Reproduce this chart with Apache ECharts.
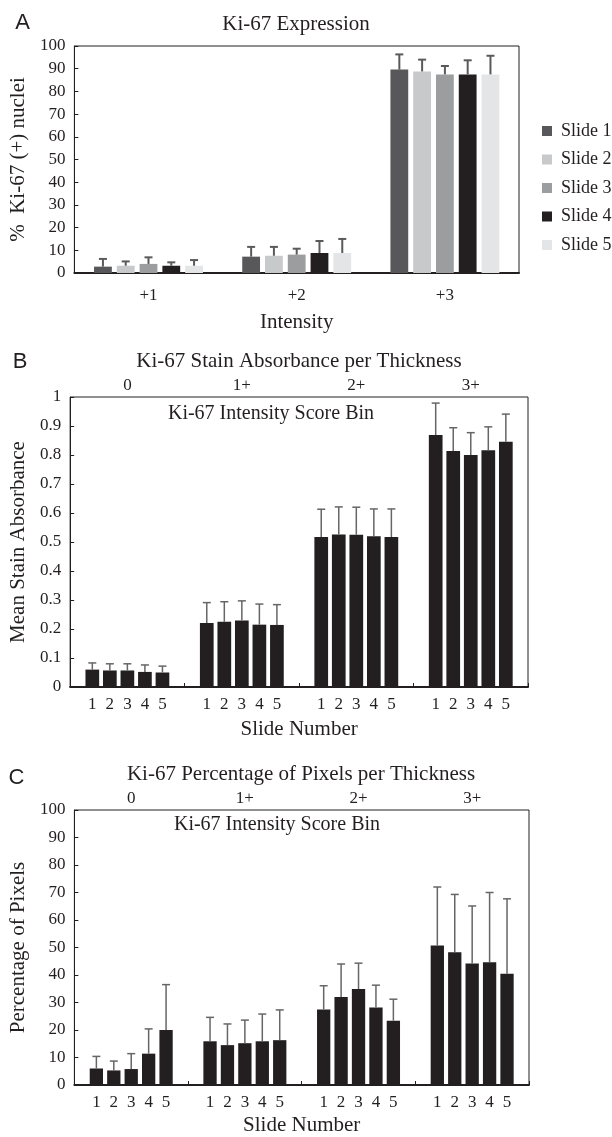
<!DOCTYPE html>
<html>
<head>
<meta charset="utf-8">
<title>Ki-67</title>
<script src="https://cdn.jsdelivr.net/npm/echarts@6/dist/echarts.min.js"></script>
<style>
  html, body { margin: 0; padding: 0; background: #fff; }
  #chart { width: 612px; height: 1137px; }
</style>
</head>
<body>
<div id="chart"></div>
<script>
// ---- data ----
var slideNames = ['Slide 1', 'Slide 2', 'Slide 3', 'Slide 4', 'Slide 5'];
var slideColors = ['#58585a', '#c8c9cb', '#9b9d9f', '#231f20', '#e4e5e6'];

// panel A : % Ki-67 (+) nuclei, rows = slides, cols = intensity
var aCats = ['+1', '+2', '+3'];
var aMeans = [
    [2.8, 7.2, 89.6],
    [3.2, 7.6, 88.8],
    [4.0, 8.1, 87.5],
    [3.2, 8.8, 87.5],
    [3.2, 8.8, 87.5]
];
var aErrs = [
    [3.4, 4.3, 6.7],
    [1.9, 3.9, 5.2],
    [2.9, 2.6, 3.7],
    [1.5, 5.3, 6.2],
    [2.5, 6.2, 8.2]
];

// panel B : mean stain absorbance
var binCats = ['0', '1+', '2+', '3+'];
var bMeans = [
    [0.060, 0.221, 0.517, 0.869],
    [0.057, 0.225, 0.526, 0.814],
    [0.057, 0.229, 0.525, 0.800],
    [0.052, 0.215, 0.520, 0.816],
    [0.050, 0.214, 0.517, 0.846]
];
var bErrs = [
    [0.023, 0.070, 0.096, 0.110],
    [0.023, 0.069, 0.095, 0.080],
    [0.023, 0.068, 0.095, 0.077],
    [0.024, 0.071, 0.094, 0.081],
    [0.022, 0.070, 0.097, 0.095]
];

// panel C : percentage of pixels
var cMeans = [
    [6.0, 15.9, 27.5, 50.7],
    [5.3, 14.5, 32.0, 48.3],
    [5.8, 15.2, 34.9, 44.2],
    [11.4, 15.9, 28.2, 44.6],
    [20.0, 16.3, 23.4, 40.5]
];
var cErrs = [
    [4.4, 8.7, 8.6, 21.3],
    [3.4, 7.7, 12.0, 21.0],
    [5.6, 8.4, 9.4, 20.9],
    [9.0, 9.9, 8.1, 25.4],
    [16.5, 11.0, 7.8, 27.2]
];

var serif = "'Liberation Serif', 'Times New Roman', serif";
var sans = "'Liberation Sans', Arial, sans-serif";
var ink = '#231f20';

var myChart = echarts.init(document.getElementById('chart'));

function errorSeries(xi, means, errs, barW, gap, color, lw) {
    var data = [];
    means.forEach(function(row, s) {
        row.forEach(function(m, c) {
            data.push([c, s, m, m + errs[s][c]]);
        });
    });
    return {
        type: 'custom',
        xAxisIndex: xi,
        yAxisIndex: xi,
        encode: {x: 0, y: 3},
        z: 3,
        silent: true,
        data: data,
        renderItem: function(params, api) {
            var c = api.value(0), s = api.value(1);
            var p0 = api.coord([c, api.value(2)]);
            var p1 = api.coord([c, api.value(3)]);
            var total = 5 * barW + 4 * barW * gap;
            var x = p0[0] - total / 2 + s * barW * (1 + gap) + barW / 2;
            var st = {stroke: color, lineWidth: lw};
            return {type: 'group', children: [
                {type: 'line', shape: {x1: x, y1: p0[1], x2: x, y2: p1[1]}, style: st},
                {type: 'line', shape: {x1: x - 4, y1: p1[1], x2: x + 4, y2: p1[1]}, style: st}
            ]};
        }
    };
}

function barSeries(prefix, xi, means, barW, gap, colors, withLabel) {
    return means.map(function(row, s) {
        return {
            name: prefix + slideNames[s],
            type: 'bar',
            xAxisIndex: xi,
            yAxisIndex: xi,
            data: row,
            barWidth: barW,
            barGap: (gap * 100) + '%',
            itemStyle: {color: colors[s]},
            label: {
                show: withLabel,
                position: 'bottom',
                distance: 9,
                formatter: String(s + 1),
                fontFamily: serif,
                fontSize: 17,
                color: ink
            }
        };
    });
}

var tickLabel = {fontFamily: serif, fontSize: 17, color: ink};
var nameStyle = {fontFamily: serif, fontSize: 21, color: ink};

function yAxisOf(gi, max, interval, name, gap) {
    return {
        type: 'value', gridIndex: gi, min: 0, max: max, interval: interval,
        axisLine: {show: true, lineStyle: {color: ink, width: 1}},
        axisTick: {show: true, inside: true, length: 4, lineStyle: {color: ink}},
        axisLabel: Object.assign({margin: 9}, tickLabel),
        splitLine: {show: false},
        name: name, nameLocation: 'middle', nameGap: gap,
        nameTextStyle: nameStyle
    };
}

var grids = [
    {left: 73, top: 46, width: 446, height: 227},
    {left: 69, top: 397, width: 459, height: 290},
    {left: 73, top: 810, width: 456, height: 277}
];
grids.forEach(function(g) {
    g.show = true; g.borderColor = ink; g.borderWidth = 1; g.backgroundColor = 'transparent';
});

var xAxes = [
    {
        type: 'category', gridIndex: 0, data: aCats,
        axisLine: {lineStyle: {color: ink, width: 2}},
        axisTick: {show: false},
        axisLabel: Object.assign({margin: 14}, tickLabel),
        name: 'Intensity', nameLocation: 'middle', nameGap: 39, nameTextStyle: nameStyle
    },
    {
        type: 'category', gridIndex: 1, data: binCats,
        axisLine: {lineStyle: {color: ink, width: 2}},
        axisTick: {show: true, inside: true, length: 4, lineStyle: {color: ink}},
        axisLabel: {show: false},
        name: 'Slide Number', nameLocation: 'middle', nameGap: 32, nameTextStyle: nameStyle
    },
    {
        type: 'category', gridIndex: 2, data: binCats,
        axisLine: {lineStyle: {color: ink, width: 2}},
        axisTick: {show: true, inside: true, length: 4, lineStyle: {color: ink}},
        axisLabel: {show: false},
        name: 'Slide Number', nameLocation: 'middle', nameGap: 30, nameTextStyle: nameStyle
    },
    {
        type: 'category', gridIndex: 1, position: 'top', data: binCats,
        axisLine: {show: false}, axisTick: {show: false},
        axisLabel: Object.assign({margin: 3}, tickLabel)
    },
    {
        type: 'category', gridIndex: 2, position: 'top', data: binCats,
        axisLine: {show: false}, axisTick: {show: false},
        axisLabel: Object.assign({margin: 3}, tickLabel)
    }
];

var yAxes = [
    yAxisOf(0, 100, 10, '%  Ki-67 (+) nuclei', 37),
    yAxisOf(1, 1, 0.1, 'Mean Stain Absorbance', 40),
    yAxisOf(2, 100, 10, 'Percentage of Pixels', 44)
];

function txt(text, x, y, font, size) {
    return {
        type: 'text', x: x, y: y, silent: true,
        style: {text: text, fontFamily: font, fontSize: size, fill: ink,
                textAlign: 'center', textVerticalAlign: 'middle'}
    };
}

var option = {
    animation: false,
    backgroundColor: '#fff',
    grid: grids,
    xAxis: xAxes,
    yAxis: yAxes,
    legend: {
        data: slideNames,
        orient: 'vertical',
        left: 542, top: 122,
        padding: 0,
        itemWidth: 10, itemHeight: 10, itemGap: 10.5,
        icon: 'rect',
        textStyle: {fontFamily: serif, fontSize: 18, color: ink, padding: [0, 0, 0, 4]},
        selectedMode: false
    },
    graphic: [
        txt('A', 22.5, 23, sans, 22),
        txt('B', 20, 362, sans, 22),
        txt('C', 16.5, 778, sans, 22),
        txt('Ki-67 Expression', 296, 24, serif, 21),
        txt('Ki-67 Stain Absorbance per Thickness', 299, 361, serif, 21),
        txt('Ki-67 Intensity Score Bin', 271, 414, serif, 20),
        txt('Ki-67 Percentage of Pixels per Thickness', 301, 774, serif, 21),
        txt('Ki-67 Intensity Score Bin', 277, 825, serif, 20)
    ],
    series: []
        .concat(barSeries('', 0, aMeans, 17.8, 0.28, slideColors, false))
        .concat([errorSeries(0, aMeans, aErrs, 17.8, 0.28, '#5a5a5a', 2)])
        .concat(barSeries('B ', 1, bMeans, 13.7, 0.28, [ink, ink, ink, ink, ink], true))
        .concat([errorSeries(1, bMeans, bErrs, 13.7, 0.28, '#666', 1.5)])
        .concat(barSeries('C ', 2, cMeans, 13.3, 0.31, [ink, ink, ink, ink, ink], true))
        .concat([errorSeries(2, cMeans, cErrs, 13.3, 0.31, '#666', 1.5)])
};

myChart.setOption(option);
</script>
</body>
</html>
